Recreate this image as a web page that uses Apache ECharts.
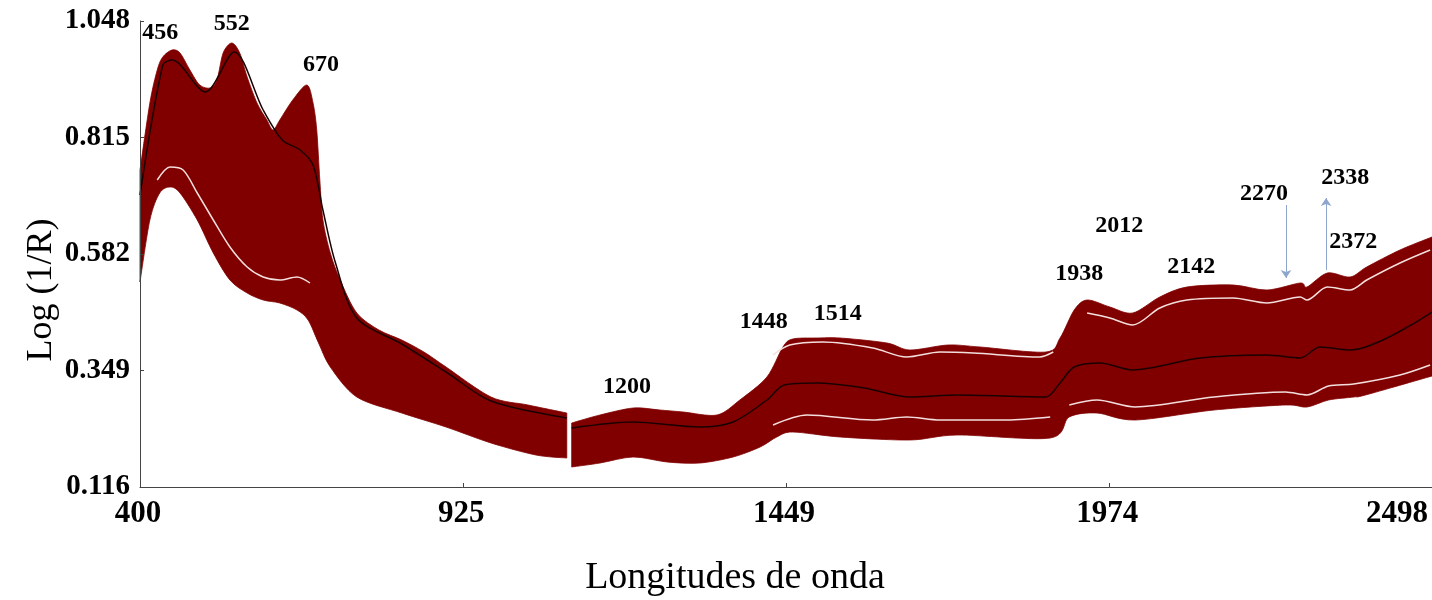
<!DOCTYPE html>
<html><head><meta charset="utf-8">
<script src="https://cdn.jsdelivr.net/npm/echarts@6/dist/echarts.min.js"></script>
<style>html,body{margin:0;padding:0;background:#fff}#c{width:1432px;height:600px}</style>
</head><body><div id="c"></div>
<script>
// ---- axis ticks ----
const xTicks = [400, 925, 1449, 1974, 2498];
const yTicks = [0.116, 0.349, 0.582, 0.815, 1.048];

// ---- envelope of the spectra band, [wavelength nm, log(1/R)] ----
const visUpper = [[400,0.750],[416,0.884],[428,0.950],[437,0.976],[452,0.990],[465,0.984],[481,0.950],[497,0.920],[514,0.914],[525,0.930],[535,0.984],[549,1.004],[562,0.984],[574,0.936],[590,0.884],[606,0.850],[616,0.830],[627,0.850],[648,0.890],[671,0.920],[681,0.884],[687,0.830],[692,0.730],[697,0.650],[709,0.584],[725,0.530],[752,0.464],[788,0.430],[825,0.410],[861,0.386],[897,0.356],[970,0.296],[1030,0.280],[1093,0.264]];
const visLower = [[400,0.526],[416,0.650],[432,0.704],[449,0.716],[465,0.704],[493,0.650],[519,0.584],[546,0.530],[574,0.504],[600,0.490],[627,0.484],[655,0.470],[673,0.450],[690,0.404],[709,0.356],[752,0.296],[825,0.264],[897,0.236],[970,0.204],[1043,0.180],[1093,0.174]];
const swirUpper = [[1101,0.244],[1147,0.260],[1201,0.274],[1244,0.270],[1282,0.266],[1337,0.260],[1374,0.290],[1418,0.336],[1444,0.396],[1460,0.412],[1499,0.414],[1537,0.414],[1613,0.404],[1650,0.390],[1712,0.400],[1764,0.396],[1871,0.386],[1894,0.414],[1917,0.470],[1938,0.490],[1975,0.476],[2012,0.464],[2056,0.496],[2100,0.516],[2175,0.520],[2230,0.510],[2284,0.524],[2295,0.516],[2328,0.544],[2365,0.536],[2392,0.556],[2446,0.590],[2498,0.616]];
const swirLower = [[1101,0.156],[1147,0.164],[1201,0.176],[1256,0.166],[1309,0.164],[1363,0.176],[1407,0.196],[1434,0.216],[1460,0.226],[1537,0.216],[1650,0.210],[1727,0.220],[1878,0.214],[1909,0.256],[1954,0.264],[2016,0.250],[2144,0.270],[2260,0.280],[2295,0.276],[2330,0.290],[2371,0.296],[2390,0.300],[2498,0.338]];

// ---- visible white gaps between individual spectra ----
const visLowGap = [[428,0.730],[449,0.756],[470,0.750],[493,0.704],[519,0.650],[546,0.596],[574,0.556],[600,0.536],[627,0.530],[655,0.536],[676,0.524]];
const swirTopGap1 = [[1428,0.380],[1455,0.400],[1509,0.406],[1590,0.394],[1645,0.376],[1699,0.386],[1753,0.384],[1861,0.376],[1883,0.386]];
const swirTopGap2 = [[1938,0.464],[1975,0.454],[2012,0.440],[2056,0.474],[2100,0.490],[2175,0.494],[2230,0.484],[2284,0.496],[2295,0.490],[2328,0.516],[2365,0.510],[2392,0.530],[2446,0.564],[2495,0.590]];
const swirLowGap1 = [[1428,0.240],[1483,0.260],[1590,0.250],[1645,0.256],[1699,0.250],[1808,0.250],[1878,0.256]];
const swirLowGap2 = [[1909,0.280],[1954,0.290],[2016,0.276],[2144,0.296],[2260,0.306],[2295,0.300],[2330,0.318],[2371,0.322],[2446,0.340],[2495,0.360]];

// ---- black reference spectrum ----
const meanLeft = [[400,0.700],[437,0.960],[452,0.970],[506,0.906],[553,0.986],[600,0.870],[631,0.810],[660,0.790],[681,0.760],[697,0.670],[717,0.566],[752,0.454],[825,0.402],[897,0.346],[970,0.288],[1093,0.254]];
const meanRight = [[1101,0.234],[1201,0.246],[1309,0.236],[1363,0.246],[1418,0.290],[1446,0.320],[1499,0.324],[1576,0.314],[1650,0.296],[1727,0.300],[1871,0.296],[1894,0.324],[1917,0.356],[1959,0.364],[2012,0.350],[2121,0.374],[2230,0.380],[2284,0.374],[2316,0.396],[2365,0.390],[2498,0.466]];

// ---- band annotations ----
const annText = ['456','552','670','1200','1448','1514','1938','2012','2142','2270','2338','2372'];
const annX = [433, 549, 694, 1191, 1413, 1533, 1925, 1990, 2107, 2225, 2357, 2370];
const annY = [1.025, 1.042, 0.960, 0.316, 0.446, 0.462, 0.542, 0.638, 0.556, 0.702, 0.734, 0.606];

// ---- arrows ----
const arrowDown = [[2261, 0.680], [2261, 0.534]];
const arrowUp = [[2326, 0.550], [2326, 0.694]];

const BAND = '#800000';
const SERIF = '"Liberation Serif", "Times New Roman", serif';

// smooth (Catmull-Rom style) path through already-projected pixel points
function smoothSeg(pts, k) {
  let d = '';
  for (let i = 0; i < pts.length - 1; i++) {
    const p0 = pts[Math.max(0, i - 1)], p1 = pts[i], p2 = pts[i + 1], p3 = pts[Math.min(pts.length - 1, i + 2)];
    const c1 = [p1[0] + (p2[0] - p0[0]) * k, p1[1] + (p2[1] - p0[1]) * k];
    const c2 = [p2[0] - (p3[0] - p1[0]) * k, p2[1] - (p3[1] - p1[1]) * k];
    d += ' C' + c1[0] + ',' + c1[1] + ' ' + c2[0] + ',' + c2[1] + ' ' + p2[0] + ',' + p2[1];
  }
  return d;
}
function band(upper, lower) {
  return {
    type: 'custom', silent: true, z: 2,
    data: [[upper[0][0], upper[0][1]]],
    renderItem: function (params, api) {
      const up = upper.map(p => api.coord(p));
      const lo = lower.slice().reverse().map(p => api.coord(p));
      const d = 'M' + up[0][0] + ',' + up[0][1] + smoothSeg(up, 0.15) +
        ' L' + lo[0][0] + ',' + lo[0][1] + smoothSeg(lo, 0.15) + ' Z';
      return { type: 'path', shape: { pathData: d }, style: { fill: BAND, stroke: BAND, lineWidth: 0.8 } };
    }
  };
}
function meanLine(d) {
  return { type: 'line', data: d, smooth: 0.3, showSymbol: false, silent: true, z: 4,
    lineStyle: { color: '#1a0000', width: 1.5 } };
}
function gapLine(d) {
  return { type: 'line', data: d, smooth: 0.3, showSymbol: false, silent: true, z: 3,
    lineStyle: { color: '#f3dede', width: 1.5 } };
}

const chart = echarts.init(document.getElementById('c'), null, { renderer: 'canvas' });
chart.setOption({
  animation: false,
  backgroundColor: '#fff',
  grid: { left: 140, right: 0, top: 21, bottom: 113 },
  xAxis: {
    type: 'value', min: 400, max: 2498, z: 10,
    axisLine: { show: true, lineStyle: { color: '#444', width: 1 } },
    axisTick: { show: true, inside: true, length: 4, customValues: xTicks, lineStyle: { color: '#444' } },
    axisLabel: { customValues: xTicks, margin: 11, color: '#000', fontFamily: SERIF, fontWeight: 'bold', fontSize: 31, alignMaxLabel: 'right',
      formatter: v => String(v), rich: {} , padding: [0, 4, 0, 0] },
    splitLine: { show: false }
  },
  yAxis: {
    type: 'value', min: 0.116, max: 1.048, z: 10,
    axisLine: { show: true, lineStyle: { color: '#444', width: 1 } },
    axisTick: { show: true, inside: true, length: 4, customValues: yTicks, lineStyle: { color: '#444' } },
    axisLabel: { customValues: yTicks, margin: 10, color: '#000', fontFamily: SERIF, fontWeight: 'bold', fontSize: 29,
      formatter: v => Number(v).toFixed(3) },
    splitLine: { show: false }
  },
  graphic: [
    { type: 'text', x: 735, y: 578, style: { text: 'Longitudes de onda', font: '38px ' + SERIF, fill: '#000', textAlign: 'center', textVerticalAlign: 'middle' } },
    { type: 'text', x: 42, y: 290, rotation: Math.PI / 2, style: { text: 'Log (1/R)', font: '36px ' + SERIF, fill: '#000', textAlign: 'center', textVerticalAlign: 'middle' } }
  ],
  series: [
    band(visUpper, visLower),
    band(swirUpper, swirLower),
    gapLine(visLowGap),
    gapLine(swirTopGap1),
    gapLine(swirTopGap2),
    gapLine(swirLowGap1),
    gapLine(swirLowGap2),
    meanLine(meanLeft),
    meanLine(meanRight),
    {
      type: 'lines', coordinateSystem: 'cartesian2d', silent: true, z: 5,
      symbol: ['none', 'arrow'], symbolSize: 8,
      lineStyle: { color: '#8ea6cc', width: 1, opacity: 1 },
      data: [{ coords: arrowDown }, { coords: arrowUp }]
    },
    {
      type: 'scatter', silent: true, z: 6, symbolSize: 0,
      itemStyle: { opacity: 1 },
      data: annText.map((t, i) => ({ name: t, value: [annX[i], annY[i]] })),
      label: { show: true, position: 'inside', formatter: p => p.name, color: '#000', opacity: 1,
        fontFamily: SERIF, fontWeight: 'bold', fontSize: 24 }
    }
  ]
});
</script></body></html>
